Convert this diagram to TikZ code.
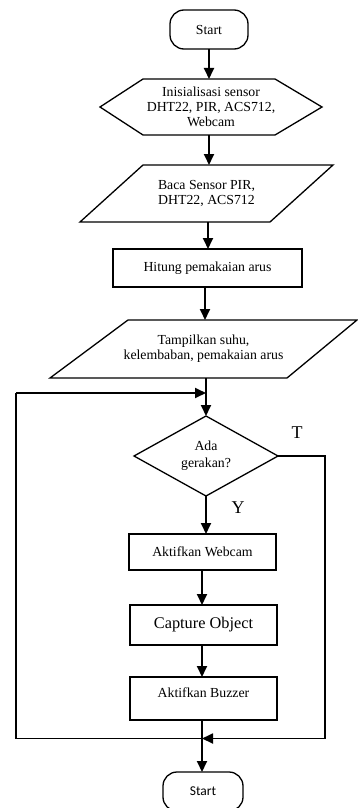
\documentclass[tikz,border=0pt]{standalone}
\usepackage{fontspec}
\setmainfont{Liberation Serif}
\newfontfamily\sansf{Carlito}
\usetikzlibrary{arrows.meta}
\begin{document}
\begin{tikzpicture}[x=1pt,y=-1pt,
  every node/.style={inner sep=0pt,outer sep=0pt,align=center,font=\fontsize{13.8}{15}\selectfont},
  boxn/.style={draw,line width=1.3pt},
  outl/.style={draw,line width=1.3pt,line join=miter},
  term/.style={draw,line width=1.3pt,rounded corners=14pt},
  arr/.style={line width=1.8pt,-{Triangle[length=11pt,width=10pt]}},
  lin/.style={line width=1.6pt},
  lbl/.style={font=\fontsize{18}{18}\selectfont}]
\useasboundingbox (0,0) rectangle (357,808);
% nodes
\node[term,minimum width=78pt,minimum height=39pt] (start) at (209,29.5) {Start};
\node[minimum width=222pt,minimum height=56pt] (init) at (211,107) {Inisialisasi sensor\\DHT22, PIR, ACS712,\\Webcam};
\node[minimum width=253pt,minimum height=57pt] (baca) at (206.5,193.5) {Baca Sensor PIR,\\DHT22, ACS712};
\node[boxn,minimum width=189pt,minimum height=38pt] (hitung) at (207.5,268) {Hitung pemakaian arus};
\node[minimum width=307pt,minimum height=58pt] (tampil) at (203.5,349) {Tampilkan suhu,\\kelembaban, pemakaian arus};
\node[minimum width=144pt,minimum height=80pt,font=\fontsize{13.8}{17}\selectfont] (dec) at (206,456) {Ada\\gerakan?};
\node[boxn,minimum width=147pt,minimum height=36pt] (webcam) at (202.5,552) {Aktifkan Webcam};
\node[boxn,minimum width=147pt,minimum height=40pt,font=\fontsize{16.3}{18}\selectfont] (capture) at (203.5,625) {Capture Object};
\node[boxn,minimum width=147pt,minimum height=43pt,text height=9.5pt,text depth=11.5pt] (buzzer) at (203.5,698.5) {Aktifkan Buzzer};
\node[term,minimum width=80pt,minimum height=39pt,font=\fontsize{13.5}{15}\sansf] (end) at (203,791.5) {Start};
\node[lbl] (T) at (297,433) {T};
\node[lbl] (Y) at (238,508) {Y};
% outlines
\draw[outl] (init.west) -- ([xshift=43pt]init.north west) -- ([xshift=-47pt]init.north east) -- (init.east) -- ([xshift=-47pt]init.south east) -- ([xshift=43pt]init.south west) -- cycle;
\draw[outl] ([xshift=63pt]baca.north west) -- (baca.north east) -- ([xshift=-63pt]baca.south east) -- (baca.south west) -- cycle;
\draw[outl] ([xshift=78pt]tampil.north west) -- (tampil.north east) -- ([xshift=-70pt]tampil.south east) -- (tampil.south west) -- cycle;
\draw[outl] (dec.north) -- (dec.east) -- (dec.south) -- (dec.west) -- cycle;
% junction coordinates
\coordinate (j1) at (206,393);
\coordinate (j2) at (202,738.5);
\coordinate (lt) at (16,393);
\coordinate (lb) at (16,738.5);
\coordinate (rt) at (325,456);
\coordinate (rb) at (325,738.5);
% connectors
\draw[arr] (start.south) -- (start.south |- init.north);
\draw[arr] (start.south |- init.south) -- (start.south |- baca.north);
\draw[arr] (208,222) -- (208,249);
\draw[arr] (205,287) -- (205,320);
\draw[lin] (dec.north |- tampil.south) -- (j1);
\draw[arr] (j1) -- (dec.north);
\draw[arr] (dec.south) -- (dec.south |- webcam.north);
\draw[arr] (202,570) -- (202,605);
\draw[arr] (202,645) -- (202,677);
\draw[lin] (202,720) -- (j2);
\draw[arr] (j2) -- (end.north -| j2);
\draw[lin] (j2) -- (lb) -- (lt);
\draw[arr] (lt) -- (j1);
\draw[lin] (dec.east) -- (rt) -- (rb);
\draw[arr] (rb) -- (j2);
\end{tikzpicture}
\end{document}
